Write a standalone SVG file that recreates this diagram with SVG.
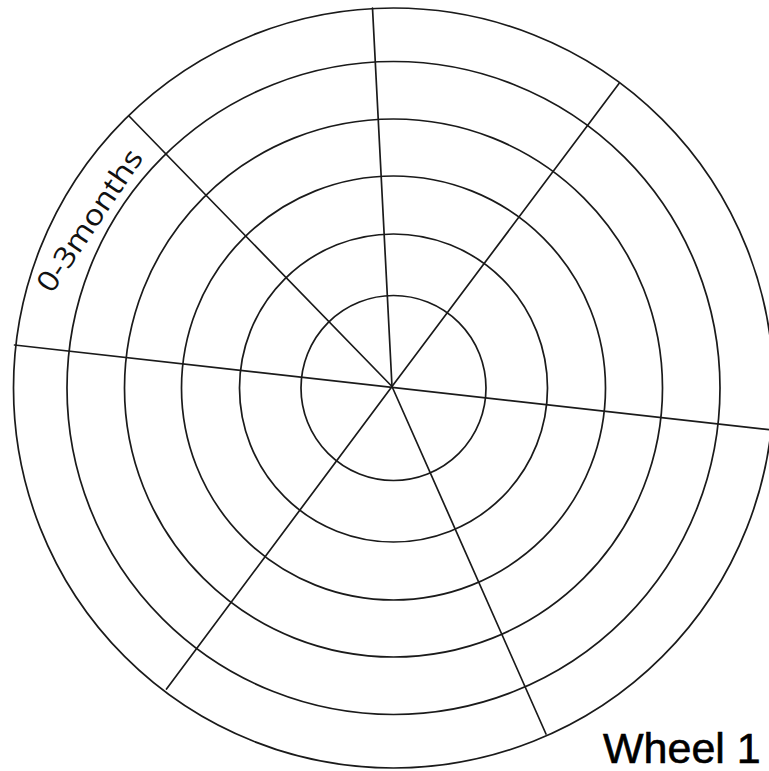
<svg xmlns="http://www.w3.org/2000/svg" width="769" height="771" viewBox="0 0 769 771">
<style>
.ring{fill:none;stroke:#1a1a1a;stroke-width:1.7}
.spoke{stroke:#1a1a1a;stroke-width:1.7;stroke-linecap:round}
.lbl{font-family:"Open Sans","DejaVu Sans",sans-serif;fill:#111}
.title{font-family:"Liberation Sans",Arial,sans-serif;fill:#000;stroke:#000;stroke-width:0.6}
</style>
<rect width="769" height="771" fill="#fff"/>
<g id="rings">
<circle class="ring" cx="393.5" cy="388" r="92.5"/>
<circle class="ring" cx="393.5" cy="388" r="154"/>
<circle class="ring" cx="393.5" cy="388" r="212"/>
<circle class="ring" cx="393.5" cy="388" r="269"/>
<circle class="ring" cx="393.5" cy="388" r="326.5"/>
<circle class="ring" cx="393.5" cy="388" r="380"/>
</g>
<g id="connectors">
<line class="spoke" x1="392" y1="386.5" x2="372.5" y2="8"/>
<line class="spoke" x1="392" y1="386.5" x2="619" y2="83.5"/>
<line class="spoke" x1="14.5" y1="345" x2="772" y2="430"/>
<line class="spoke" x1="392" y1="386.5" x2="129" y2="116"/>
<line class="spoke" x1="392" y1="386.5" x2="166.5" y2="689"/>
<line class="spoke" x1="392" y1="386.5" x2="546" y2="734"/>
</g>
<g id="label-0-3months">
<text class="lbl" font-size="29" text-anchor="middle" transform="translate(98,226) rotate(-56)" textLength="165" lengthAdjust="spacingAndGlyphs">0-3months</text>
</g>
<g id="title">
<text class="title" x="603" y="763" font-size="43">Wheel 1</text>
</g>
</svg>
